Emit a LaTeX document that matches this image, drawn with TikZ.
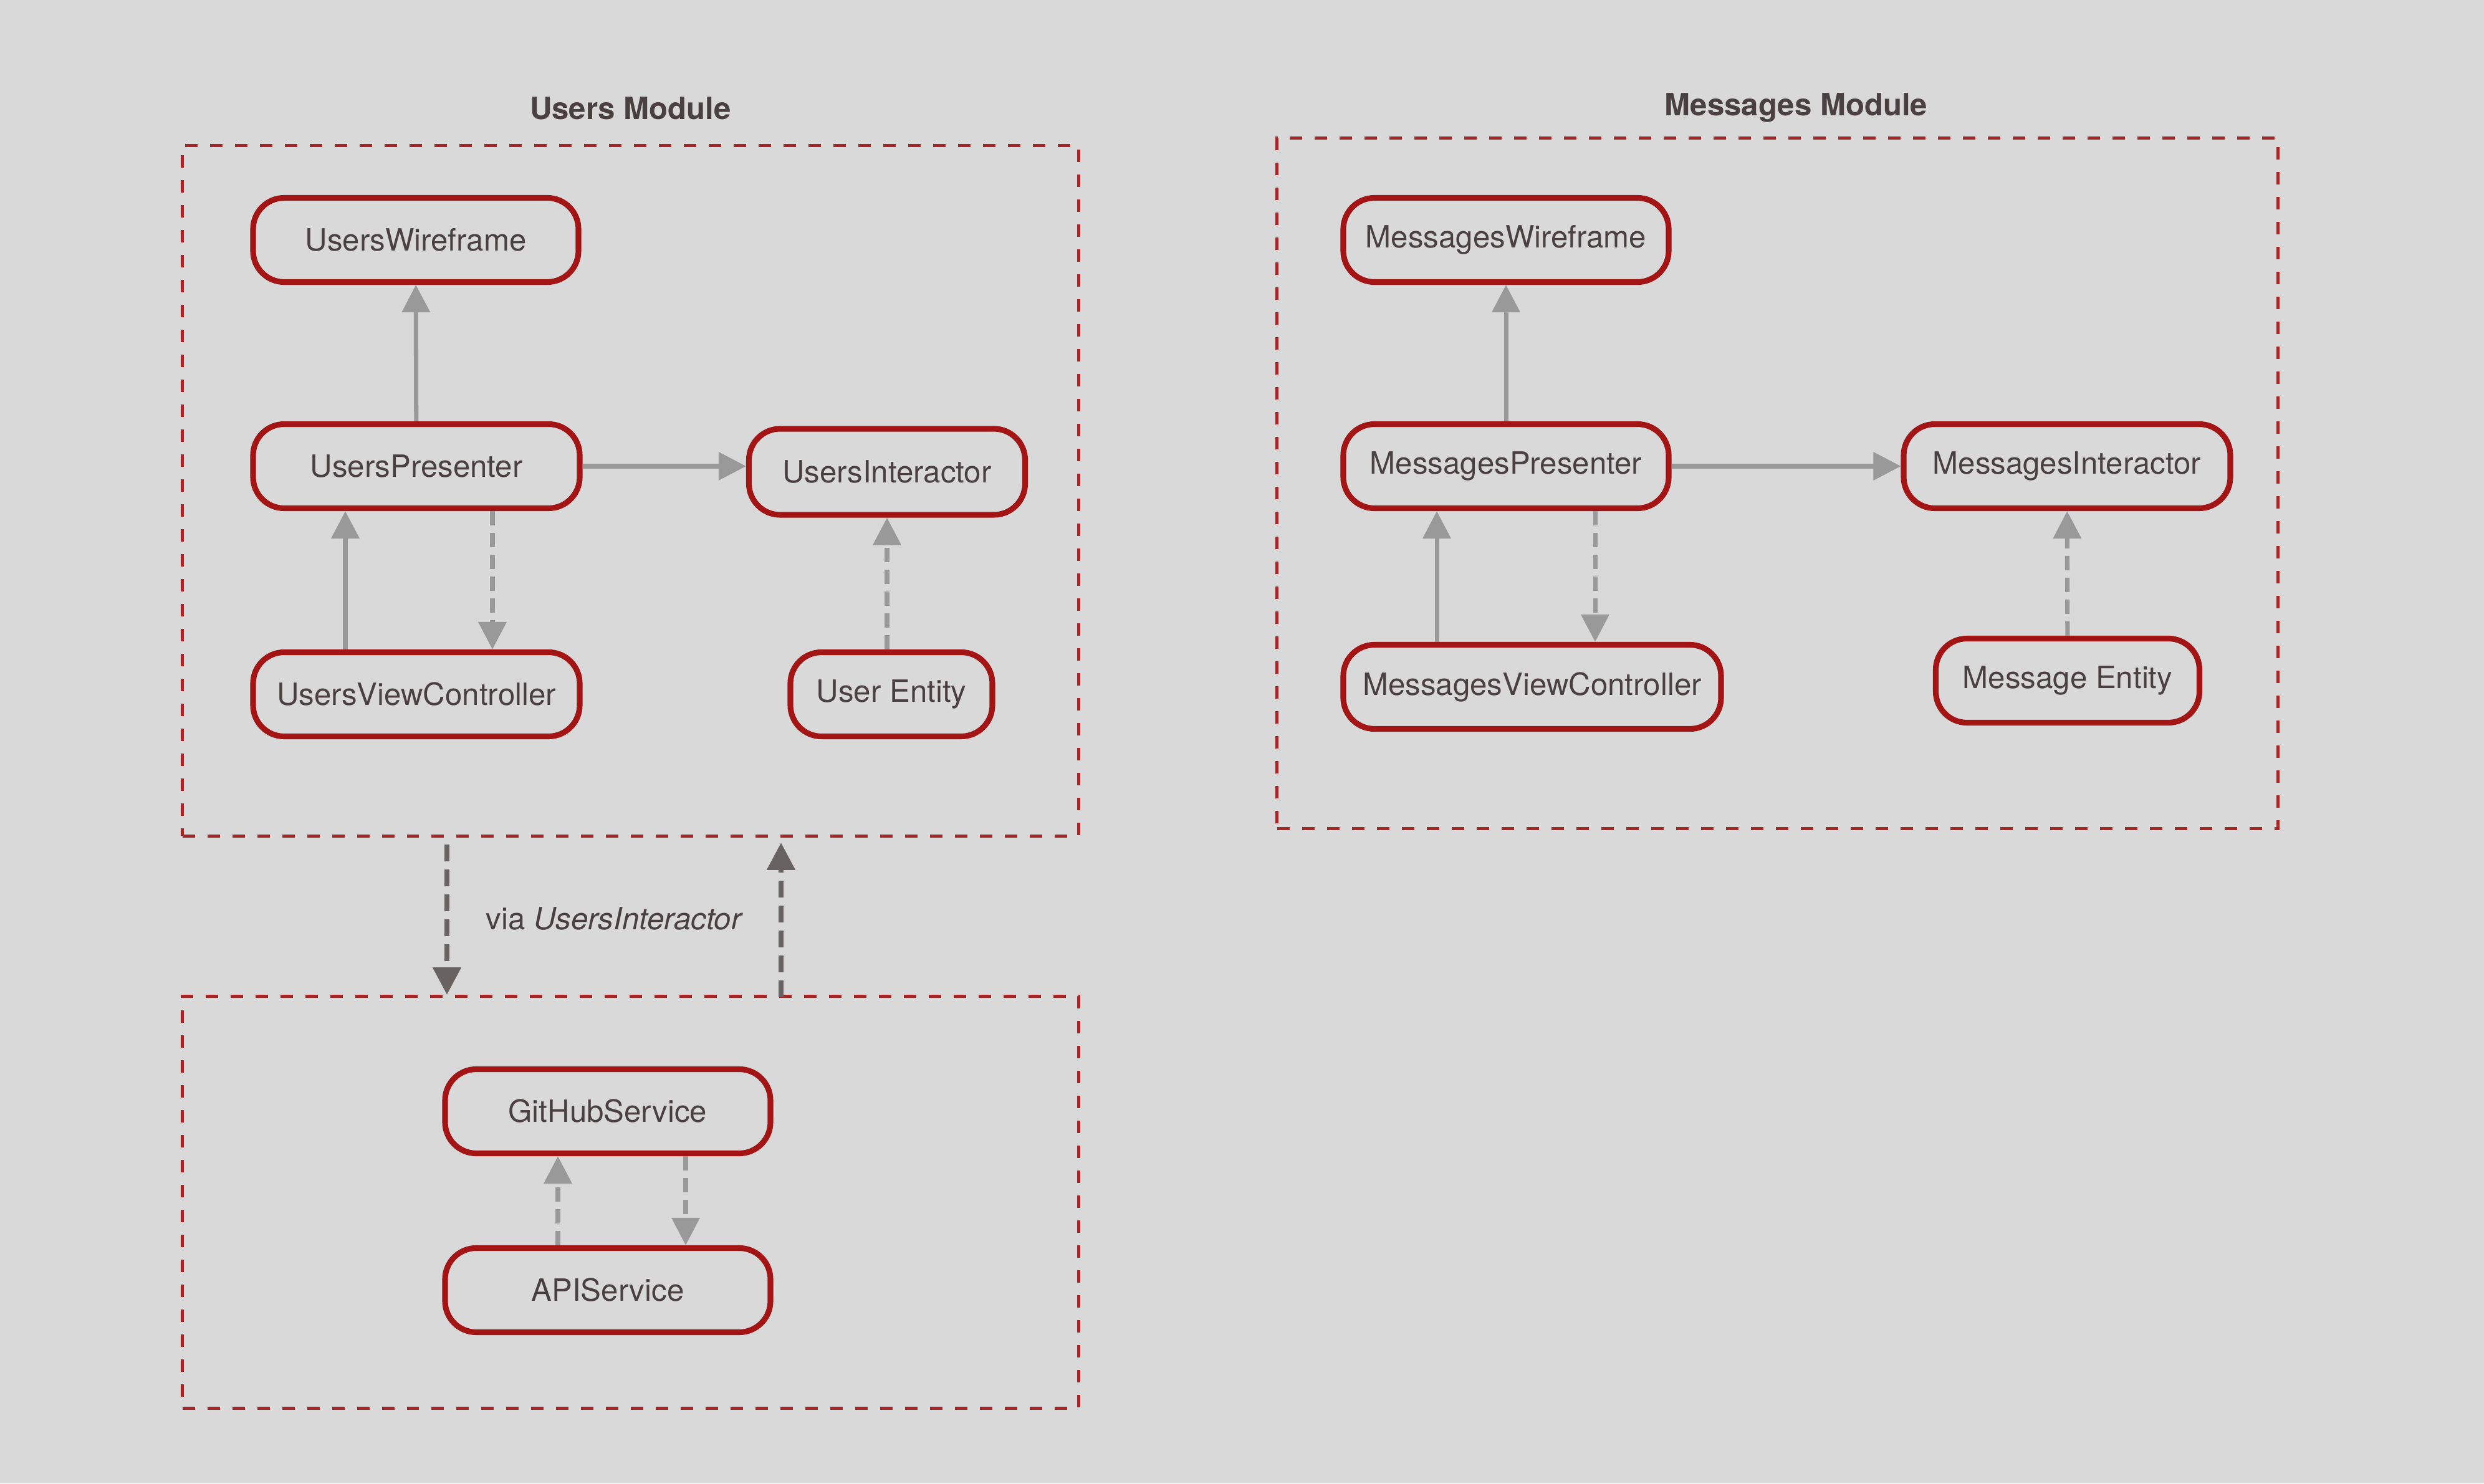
\documentclass[tikz,border=0pt]{standalone}
\usepackage{fontspec}
\setmainfont{TeX Gyre Heros}
\usetikzlibrary{arrows.meta}

\definecolor{bggray}{HTML}{D9D9D9}
\definecolor{boxred}{HTML}{A52626}
\definecolor{partred}{HTML}{A31414}
\definecolor{linkgray}{HTML}{999999}
\definecolor{callgray}{HTML}{686262}
\definecolor{textgray}{HTML}{4B4041}

\tikzset{
	module/.style={draw=boxred,line width=1.4pt,dash pattern=on 0.2cm off 0.2cm,inner sep=0pt},
	title/.style={font=\fontsize{14}{17}\selectfont\bfseries,text=textgray},
	part/.style={draw=partred,line width=2.6pt,rounded corners=0.5cm,minimum height=1.35cm,font=\fontsize{14}{17}\selectfont,text=textgray},
	link/.style={draw=linkgray,line width=2pt,-{Triangle[length=4.4mm,width=4.4mm]}},
	weak/.style={link,dash pattern=on 0.23cm off 0.12cm},
	call/.style={draw=callgray,line width=2.4pt,dash pattern=on 0.27cm off 0.13cm,-{Triangle[length=4.4mm,width=4.4mm]}}
}

\begin{document}
\begin{tikzpicture}
	\path [fill=bggray,use as bounding box] (0,0) rectangle (39.85,23.8);

	% modules
	\node [module,minimum width=14.38cm,minimum height=11.08cm,label={[title,label distance=0.27cm]above:Users Module}] (users) at (10.115,15.925) {};
	\node [module,minimum width=16.06cm,minimum height=11.08cm,label={[title,label distance=0.1cm,xshift=0.3cm]above:Messages Module}] (messages) at (28.515,16.045) {};
	\node [module,minimum width=14.38cm,minimum height=6.61cm] (services) at (10.115,4.51) {};

	% users
	\node [part,minimum width=5.22cm] (uwire) at (6.67,19.95) {UsersWireframe};
	\node [part,minimum width=5.24cm] (upres) at (6.68,16.32) {UsersPresenter};
	\node [part,minimum width=4.43cm,minimum height=1.38cm] (uinter) at (14.23,16.23) {UsersInteractor};
	\node [part,minimum width=5.24cm] (uview) at (6.68,12.66) {UsersViewController};
	\node [part,minimum width=3.24cm] (uentity) at (14.30,12.66) {User Entity};

	% messages
	\node [part,minimum width=5.22cm] (mwire) at (24.16,19.95) {MessagesWireframe};
	\node [part,minimum width=5.22cm] (mpres) at (24.16,16.32) {MessagesPresenter};
	\node [part,minimum width=5.24cm] (minter) at (33.16,16.32) {MessagesInteractor};
	\node [part,minimum width=6.06cm] (mview) at (24.58,12.78) {MessagesViewController};
	\node [part,minimum width=4.23cm] (mentity) at (33.17,12.88) {Message Entity};

	% services
	\node [part,minimum width=5.22cm] (github) at (9.75,5.97) {GitHubService};
	\node [part,minimum width=5.22cm] (api) at (9.75,3.10) {APIService};

	\draw [link] (upres) -- (uwire);
	\draw [link] (upres.east) -- (upres.east -| uinter.west);
	\draw [link] ([xshift=-1.14cm]uview.north) -- ([xshift=-1.14cm]upres.south);
	\draw [weak] ([xshift=1.22cm]upres.south) -- ([xshift=1.22cm]uview.north);
	\draw [weak] (uentity.north -| uinter) -- (uinter.south);

	\draw [link] (mpres) -- (mwire);
	\draw [link] (mpres) -- (minter);
	\draw [link] ([xshift=-1.53cm]mview.north) -- ([xshift=-1.11cm]mpres.south);
	\draw [weak] ([xshift=1.43cm]mpres.south) -- ([xshift=1.01cm]mview.north);
	\draw [weak] (mentity) -- (minter);

	\draw [weak] ([xshift=-0.8cm]api.north) -- ([xshift=-0.8cm]github.south);
	\draw [weak] ([xshift=1.25cm]github.south) -- ([xshift=1.25cm]api.north);

	% between modules
	\draw [call] ([xshift=-2.945cm,yshift=-0.11cm]users.south) -- ([xshift=-2.945cm]services.north);
	\draw [call] ([xshift=2.415cm,yshift=-0.04cm]services.north) -- ([xshift=2.415cm,yshift=-0.08cm]users.south);
	\node [font=\fontsize{14}{17}\selectfont,text=textgray] (via) at (9.86,9.06) {via \textit{UsersInteractor}};
\end{tikzpicture}
\end{document}
